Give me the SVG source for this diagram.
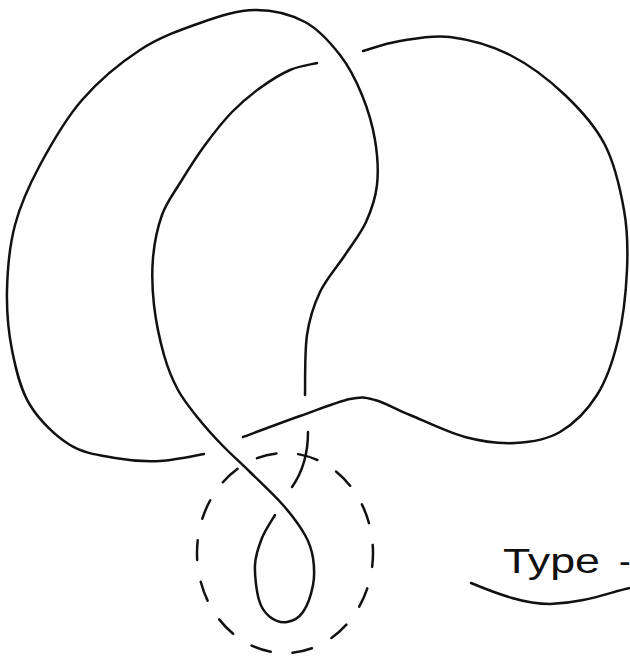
<svg xmlns="http://www.w3.org/2000/svg" width="630" height="658" viewBox="0 0 630 658">
<style>
.k{fill:none;stroke:#111;stroke-width:2.5;stroke-linecap:round;stroke-linejoin:round}
.d{fill:none;stroke:#111;stroke-width:2.5;stroke-linecap:round;stroke-dasharray:20 22}
.t{font-family:"Liberation Sans",Arial,sans-serif;font-size:35px;fill:#111}
</style>
<rect width="630" height="658" fill="#fff"/>
<g id="knot">
<path id="strand-outer" class="k" d="M363,51 C369.2,49.3 385.5,43.3 400,41 C414.5,38.7 431.7,34.7 450,37 C468.3,39.3 490.8,45.3 510,55 C529.2,64.7 549.2,80 565,95 C580.8,110 595.2,125.8 605,145 C614.8,164.2 620.3,189.2 624,210 C627.7,230.8 628,248.3 627,270 C626,291.7 623,319.2 618,340 C613,360.8 606.7,379.7 597,395 C587.3,410.3 573.7,424 560,432 C546.3,440 530.8,442.2 515,443 C499.2,443.8 482.5,441.7 465,437 C447.5,432.3 425,421.2 410,415 C395,408.8 385,402.7 375,400 C365,397.3 362.5,396.3 350,399 C337.5,401.7 317.8,409.7 300,416 C282.2,422.3 252.5,433.5 243,437"/>
<path id="strand-left" class="k" d="M204,454 C196.7,455.2 174.8,460.3 160,461 C145.2,461.7 130,460.7 115,458 C100,455.3 84.2,453.8 70,445 C55.8,436.2 39.7,420.8 30,405 C20.3,389.2 15.8,369.2 12,350 C8.2,330.8 6.5,310.8 7,290 C7.5,269.2 9.5,245.8 15,225 C20.5,204.2 28.8,185.8 40,165 C51.2,144.2 65.3,119.2 82,100 C98.7,80.8 120.3,62.8 140,50 C159.7,37.2 180.8,29.7 200,23 C219.2,16.3 237.5,10.2 255,10 C272.5,9.8 290.8,14.5 305,22 C319.2,29.5 330.5,42.8 340,55 C349.5,67.2 356.2,80.8 362,95 C367.8,109.2 372.5,125 375,140 C377.5,155 378.5,171.3 377,185 C375.5,198.7 371.3,210.3 366,222 C360.7,233.7 352.7,243.3 345,255 C337.3,266.7 326.3,278.7 320,292 C313.7,305.3 309.5,317.8 307,335 C304.5,352.2 305.3,385 305,395"/>
<path id="strand-mid" class="k" d="M308,432 C308,450 304,470 292,487"/>
<path id="strand-loop" class="k" d="M275,515 C272.8,518.8 265.3,529.7 262,538 C258.7,546.3 255.5,554.7 255,565 C254.5,575.3 256.5,591.3 259,600 C261.5,608.7 265.3,613.3 270,617 C274.7,620.7 281.5,622.8 287,622 C292.5,621.2 298.7,618.2 303,612 C307.3,605.8 311.3,594 313,585 C314.7,576 314.3,566.3 313,558 C311.7,549.7 310,543.8 305,535 C300,526.2 292.2,515.5 283,505 C273.8,494.5 260.2,482 250,472 C239.8,462 230.7,454 222,445 C213.3,436 205.3,427.2 198,418 C190.7,408.8 183.7,400.5 178,390 C172.3,379.5 168,369.2 164,355 C160,340.8 155.8,321.2 154,305 C152.2,288.8 151.7,273 153,258 C154.3,243 157.5,227.5 162,215 C166.5,202.5 172.8,194.7 180,183 C187.2,171.3 196.3,156.8 205,145 C213.7,133.2 222.8,121.5 232,112 C241.2,102.5 250.3,95 260,88 C269.7,81 280.5,74.2 290,70 C299.5,65.8 312.5,64.2 317,63"/>
</g>
<g id="region">
<ellipse class="d" cx="285" cy="553" rx="88" ry="100" stroke-dashoffset="6"/>
</g>
<g id="label">
<text class="t" x="503" y="573"><tspan textLength="97" lengthAdjust="spacingAndGlyphs">Type</tspan> <tspan x="619">-</tspan></text>
<path class="k" d="M471,583 C500,595 525,604 550,604 C585,603 610,592 630,588"/>
</g>
</svg>
